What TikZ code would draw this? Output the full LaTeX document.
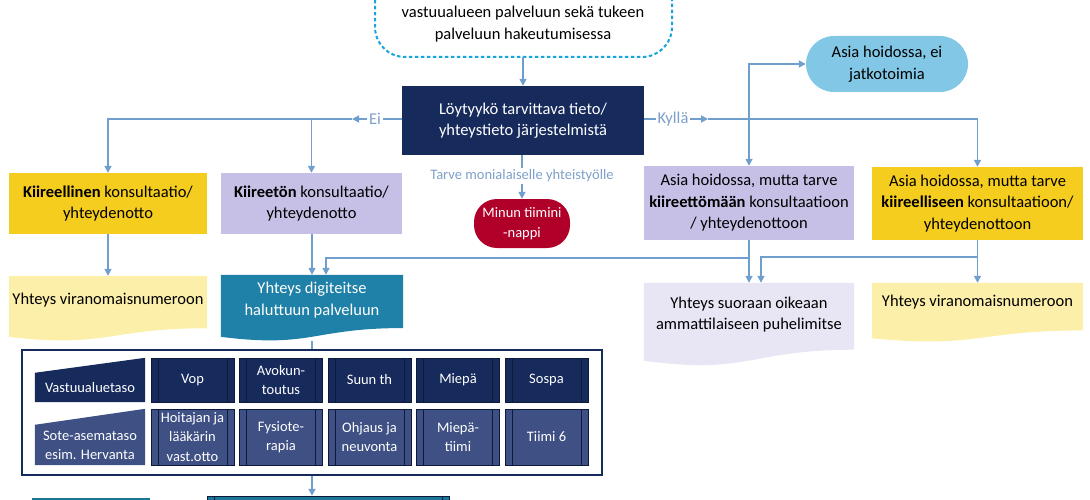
\documentclass[tikz,border=0pt]{standalone}
\usepackage{fontspec}
\setmainfont{Carlito}
\usetikzlibrary{arrows.meta,calc}

\definecolor{navy}{RGB}{22,42,92}
\definecolor{slate}{RGB}{62,80,132}
\definecolor{ppline}{RGB}{14,26,60}
\definecolor{conn}{RGB}{112,158,205}
\definecolor{lbl}{RGB}{125,160,200}
\definecolor{dashc}{RGB}{25,165,220}
\definecolor{yel}{RGB}{244,205,30}
\definecolor{lav}{RGB}{198,191,230}
\definecolor{crim}{RGB}{176,0,42}
\definecolor{lblue}{RGB}{130,200,230}
\definecolor{pyel}{RGB}{252,239,170}
\definecolor{tealc}{RGB}{31,128,168}
\definecolor{plav}{RGB}{232,230,244}
\definecolor{dteal}{RGB}{30,118,150}

\newcommand{\fzA}{\fontsize{16.5pt}{21.5pt}\selectfont}
\newcommand{\fzB}{\fontsize{14.5pt}{19.5pt}\selectfont}

\newcommand{\docshape}[2]{%
  \fill[#2] (#1.north west) -- (#1.north east) -- ($(#1.north east)!0.802!(#1.south east)$)
    .. controls ($(#1.north)!0.802!(#1.south)$) and ($(#1.north)!1.108!(#1.south)$) ..
    ($(#1.north west)!0.934!(#1.south west)$) -- cycle;}
\newcommand{\maninput}[3]{% name, color, drop
  \fill[#2] (#1.south west) -- ([yshift=-#3]#1.north west) -- (#1.north east) -- (#1.south east) -- cycle;}

\tikzset{
  box/.style={rectangle, inner sep=0pt, align=center, font=\fzA},
  conn/.style={draw=conn, line width=1.6pt},
  arr/.style={conn, -{Triangle[length=7pt,width=7pt]}},
  lbltext/.style={text=lbl, inner sep=1.5pt},
  ghost/.style={rectangle, inner sep=0pt},
  ppbox/.style={rectangle, inner sep=0pt, align=center, font=\fzB, text=white,
    minimum width=83pt, draw=ppline, line width=0.5pt,
    path picture={\draw[ppline, line width=0.8pt]
      ([xshift=7pt]path picture bounding box.north west) -- ([xshift=7pt]path picture bounding box.south west)
      ([xshift=-7pt]path picture bounding box.north east) -- ([xshift=-7pt]path picture bounding box.south east);}},
  rowA/.style={ppbox, fill=navy, minimum height=44pt},
  rowB/.style={ppbox, fill=slate, minimum height=56pt}
}

\begin{document}
\begin{tikzpicture}[x=1pt,y=-1pt]
\useasboundingbox (0,0) rectangle (1090,500);
\clip (0,0) rectangle (1090,500);

% top dashed box
\draw[dashc, line width=2pt, dash pattern=on 3.5pt off 2.5pt, rounded corners=30pt]
  (375,-60) rectangle (672,57);
\coordinate (topb) at (523,57);
\node[box] (top) at (523,24) {vastuualueen palveluun sekä tukeen\\ palveluun hakeutumisessa};

% main decision
\node[box, fill=navy, text=white, minimum width=242pt, minimum height=69pt] (main) at (523,120.5)
  {Löytyykö tarvittava tieto/\\ yhteystieto järjestelmistä};
\draw[arr] (topb) -- (main.north);

% left branch
\node[box, fill=yel, minimum width=198pt, minimum height=61pt] (kl) at (108,203.5)
  {\textbf{Kiireellinen} konsultaatio/\\ yhteydenotto};
\node[box, fill=lav, minimum width=181pt, minimum height=61pt] (kt) at (311.5,203.5)
  {\textbf{Kiireetön} konsultaatio/\\ yhteydenotto};
\node[lbltext, font=\fzA] (ei) at (375,119) {Ei};
\coordinate (eitip) at (352,119);
\draw[conn] (main.west |- ei) -- (ei.east);
\draw[arr] (ei.west) -- (eitip);
\draw[arr] (eitip) -| (kl.north);
\draw[arr] (eitip) -| (kt.north);

% middle
\node[lbltext, font=\fzB] (tarve) at (522,176) {Tarve monialaiselle yhteistyölle};
\node[box, fill=crim, text=white, minimum width=96pt, minimum height=49pt, rounded corners=23pt, font=\fzB] (minun) at (522,223.5)
  {Minun tiimini\\ -nappi};
\draw[conn] (main.south -| tarve) -- (tarve.north);
\draw[arr] (tarve.south) -- (minun.north);

% right branch
\node[box, fill=lblue, minimum width=162pt, minimum height=56pt, rounded corners=28pt] (pill) at (887,64)
  {Asia hoidossa, ei\\ jatkotoimia};
\node[box, fill=lav, minimum width=210pt, minimum height=74pt] (kt2) at (749,203)
  {Asia hoidossa, mutta tarve\\ \textbf{kiireettömään} konsultaatioon\\ / yhteydenottoon};
\node[box, fill=yel, minimum width=211pt, minimum height=73pt] (kr2) at (977.5,203.5)
  {Asia hoidossa, mutta tarve\\ \textbf{kiireelliseen} konsultaatioon/\\ yhteydenottoon};
\node[lbltext, font=\fzA] (kylla) at (673,119) {Kyllä};
\coordinate (kytip) at (708,119);
\coordinate (kyx) at (749,119);
\draw[conn] (main.east |- kylla) -- (kylla.west);
\draw[arr] (kylla.east) -- (kytip);
\draw[arr] (kytip) -| (kr2.north);
\draw[arr] (kyx) |- (pill.west);
\draw[arr] (kyx) -- (kt2.north);

% documents
\node[ghost, minimum width=198pt, minimum height=65pt] (d1) at (108,308.5) {};
\node[ghost, minimum width=182pt, minimum height=66pt] (d2) at (312,308) {};
\node[ghost, minimum width=210pt, minimum height=83pt] (d3) at (749,324.5) {};
\node[ghost, minimum width=211pt, minimum height=59pt] (d4) at (977.5,312.5) {};
\docshape{d1}{pyel}
\docshape{d2}{tealc}
\docshape{d3}{plav}
\docshape{d4}{pyel}
\node[box] (d1t) at (108,300) {Yhteys viranomaisnumeroon};
\node[box, text=white] (d2t) at (312,300) {Yhteys digiteitse\\ haluttuun palveluun};
\node[box] (d3t) at (749,314.5) {Yhteys suoraan oikeaan\\ ammattilaiseen puhelimitse};
\node[box] (d4t) at (977.5,302) {Yhteys viranomaisnumeroon};

\draw[arr] (kl.south) -- (d1.north);
\draw[arr] (kt.south -| d2.north) -- (d2.north);
\draw[arr] (kt2.south) -- (d3.north);
\draw[arr] (kr2.south) -- (d4.north);
\coordinate (j1) at (749,258);
\coordinate (j2) at (977.5,257);
\draw[arr] (j1) -| ([xshift=14pt]d2.north);
\draw[arr] (j2) -| ([xshift=12pt]d3.north);

% frame
\node[rectangle, draw=navy, fill=white, line width=1.5pt, minimum width=580pt, minimum height=125pt, inner sep=0pt] (frame) at (312,412.5) {};
\draw[conn] (d2.south) -- (frame.north);

% row A
\node[ghost, minimum width=110pt, minimum height=44pt] (ma) at (90,380) {};
\maninput{ma}{navy}{15pt}
\node[box, text=white, font=\fzB] (mat) at (90,388) {Vastuualuetaso};
\node[rowA] (vop) at (192.5,380) {Vop};
\node[rowA] (avo) at (281,380) {Avokun-\\ toutus};
\node[rowA] (suu) at (369.5,380) {Suun th};
\node[rowA] (mie) at (458,380) {Miepä};
\node[rowA] (sos) at (546.5,380) {Sospa};

% row B
\node[ghost, minimum width=110pt, minimum height=56pt] (mb) at (90,437) {};
\maninput{mb}{slate}{16pt}
\node[box, text=white, font=\fzB] (mbt) at (90,445.5) {Sote-asemataso\\ esim. Hervanta};
\node[rowB] (hoi) at (192.5,437) {Hoitajan ja\\ lääkärin\\ vast.otto};
\node[rowB] (fys) at (281,437) {Fysiote-\\ rapia};
\node[rowB] (ohj) at (369.5,437) {Ohjaus ja\\ neuvonta};
\node[rowB] (mti) at (458,437) {Miepä-\\ tiimi};
\node[rowB] (tii) at (546.5,437) {Tiimi 6};

% bottom (cut off)
\node[rectangle, fill=dteal, draw=white, line width=0.5pt, minimum width=119pt, minimum height=40pt, inner sep=0pt] (b1) at (90.5,517) {};
\node[ppbox, fill=dteal, minimum width=242pt, minimum height=40pt] (b2) at (328,516) {};
\draw[arr] (frame.south) -- (frame.south |- b2.north);
\end{tikzpicture}
\end{document}
